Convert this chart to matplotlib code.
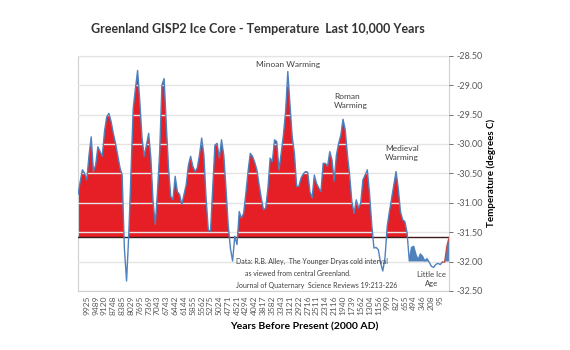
import matplotlib.pyplot as plt
import numpy as np

plt.rcParams['axes.unicode_minus'] = False
plt.rcParams['font.family'] = ['Lato', 'DejaVu Sans']

# GISP2 temperature, evenly spaced samples (oldest -> newest)
temps = [-30.86, -30.64, -30.44, -30.50, -30.61, -30.19, -29.88, -30.47, -30.36, -30.05,
         -30.13, -30.21, -29.79, -29.54, -29.48, -29.62, -29.82, -29.99, -30.19, -30.40,
         -30.53, -31.77, -32.33, -31.54, -30.47, -29.40, -29.06, -28.75, -29.28, -29.90,
         -30.21, -30.02, -29.82, -30.24, -30.98, -31.37, -30.81, -30.13, -29.00, -28.89,
         -29.68, -30.41, -30.89, -30.95, -30.55, -30.81, -30.86, -31.03, -30.86, -30.69,
         -30.36, -30.21, -30.38, -30.47, -30.41, -30.19, -29.90, -30.19, -30.92, -31.46,
         -31.49, -30.75, -30.02, -29.99, -30.24, -29.93, -30.19, -30.75, -31.37, -31.77,
         -31.99, -31.57, -31.71, -31.15, -31.26, -31.18, -30.84, -30.47, -30.16, -30.21,
         -30.31, -30.44, -30.69, -30.92, -31.12, -31.09, -30.75, -30.24, -30.30, -29.93,
         -29.96, -30.44, -30.16, -29.85, -29.45, -28.77, -29.34, -29.88, -30.16, -30.72,
         -30.72, -30.58, -30.51, -30.47, -30.48, -30.81, -30.92, -30.53, -30.67, -30.75,
         -30.81, -30.33, -30.33, -30.38, -30.13, -30.27, -30.63, -30.19, -29.99, -29.85,
         -29.58, -29.76, -30.19, -30.53, -30.98, -31.18, -30.95, -31.09, -31.01, -30.61,
         -30.53, -30.44, -30.84, -31.37, -31.77, -31.76, -31.80, -32.02, -32.16, -31.94,
         -31.40, -31.15, -30.92, -30.69, -30.47, -30.75, -31.15, -31.29, -31.32, -31.51,
         -31.99, -31.76, -31.74, -31.88, -31.97, -31.87, -31.91, -31.99, -31.95, -32.01,
         -32.08, -32.10, -32.05, -32.03, -32.05, -32.01, -32.01, -31.74, -31.59]

year_labels = ['9925', '9489', '9120', '8748', '8385', '8029', '7695', '7369', '7043',
               '6743', '6442', '6144', '5855', '5562', '5275', '5024', '4771', '4521',
               '4294', '4042', '3817', '3582', '3343', '3121', '2922', '2716', '2511',
               '2314', '2116', '1940', '1739', '1562', '1304', '1156', '990', '827',
               '655', '494', '346', '208', '95']

baseline = -31.59      # red area floor
lia_floor = -32.0      # blue area floor (Little Ice Age)
lia_start = 150        # sample where the blue area begins
recent_start = 165     # last samples drawn in red

t = np.array(temps)
x = np.arange(len(t))

fig = plt.figure(figsize=(5.7, 3.5), dpi=100)
ax = fig.add_axes([0.1368, 0.1686, 0.651, 0.6723])

red = '#E61E25'
blue = '#4F81BD'

ax.fill_between(x, t, baseline, where=(t > baseline) & (x < lia_start),
                interpolate=True, color=red, lw=0, zorder=1)
ax.fill_between(x, t, lia_floor, where=(t > lia_floor) & (x >= lia_start),
                interpolate=True, color=blue, lw=0, zorder=1)
ax.axhline(baseline, color='#3a1c1c', lw=1.0, zorder=2.6)
ax.plot(x[:recent_start + 1], t[:recent_start + 1], color=blue, lw=1.0, zorder=3)
ax.plot(x[recent_start:], t[recent_start:], color='#C0504D', lw=1.0, zorder=3)

ax.set_xlim(0, len(t) - 1)
ax.set_ylim(-32.5, -28.5)
ax.set_axisbelow(False)
ax.yaxis.grid(True, color='#E4E4E4', lw=1.0)
ax.set_yticks(np.arange(-32.5, -28.49, 0.5))
ax.yaxis.set_major_formatter(plt.FormatStrFormatter('%.2f'))
ax.yaxis.tick_right()
ax.yaxis.set_label_position('right')
ax.tick_params(axis='y', labelsize=6.5, colors='#595959', length=3, width=0.6, pad=2)

ax.set_xticks(4 + 4 * np.arange(len(year_labels)))
ax.set_xticklabels(year_labels, rotation=90, fontsize=6, color='#595959')
ax.tick_params(axis='x', length=0, pad=3)

for s in ax.spines.values():
    s.set_color('#D0D0D0')
    s.set_linewidth(0.8)

ax.set_ylabel('Temperature (degrees C)', fontsize=7, fontweight='bold', labelpad=3)
fig.text(0.533, 0.066, 'Years Before Present (2000 AD)', ha='center', va='center',
         fontsize=7.5, fontweight='bold')
fig.text(0.453, 0.918, 'Greenland GISP2 Ice Core - Temperature  Last 10,000 Years',
         ha='center', va='center', fontsize=9, fontweight='bold', color='#333333')

tc = '#404040'
ax.text(95, -28.65, 'Minoan Warming', fontsize=6, color=tc, ha='center', va='center')
ax.text(116, -29.27, 'Roman\nWarming', fontsize=6, color=tc, ha='left', va='center',
        linespacing=1.3)
ax.text(139, -30.15, 'Medieval\nWarming', fontsize=6, color=tc, ha='left', va='center',
        linespacing=1.3)
ax.text(160, -32.3, 'Little Ice\nAge', fontsize=5.5, color=tc, ha='center', va='center',
        linespacing=1.3)
ax.text(71.5, -32.0, 'Data: R.B. Alley,  The Younger Dryas cold interval',
        fontsize=5, color=tc, ha='left', va='center')
ax.text(75.5, -32.2, 'as viewed from central Greenland.',
        fontsize=5, color=tc, ha='left', va='center')
ax.text(71.5, -32.4, 'Journal of Quaternary  Science Reviews 19:213-226',
        fontsize=5, color=tc, ha='left', va='center')

fig.savefig('out.png', dpi=100)
